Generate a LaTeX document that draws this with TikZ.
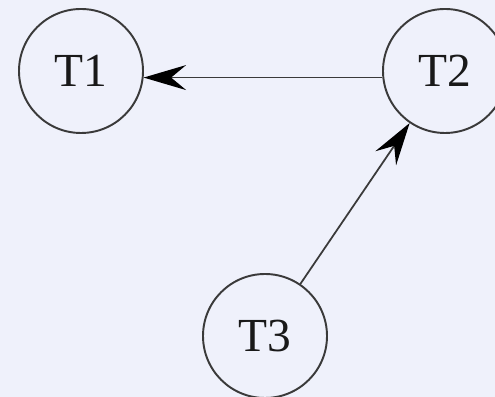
\documentclass[tikz,border=0pt]{standalone}
\usepackage{fontspec}
\setmainfont{Liberation Serif}
\usetikzlibrary{arrows.meta}
\definecolor{bgTint}{HTML}{EFF1FB}
\definecolor{inkGray}{HTML}{3A3A3A}

\begin{document}
\begin{tikzpicture}[
    taskNode/.style={circle, draw=inkGray, line width=1.1pt, minimum size=2.48cm, inner sep=0pt, font=\fontsize{27}{27}\selectfont, text=black!90},
    depRel/.style={-{Stealth[length=0.85cm, width=0.5cm, inset=0.3cm, black]}, inkGray, line width=1pt}
]
    % Background and frame
    \useasboundingbox (0,0) rectangle (9.9,7.94);
    \fill[bgTint] (0,0) rectangle (9.9,7.94);
    \clip (0,0) rectangle (9.9,7.94);

    % Tasks
    \node[taskNode] (t1) at (1.62, 6.52) {T1};
    \node[taskNode] (t2) at (8.90, 6.52) {T2};
    \node[taskNode] (t3) at (5.30, 1.22) {T3};

    % Dependencies
    \draw[depRel] (t2.186) -- (t1.-6);
    \draw[depRel] (t3) -- (t2);
\end{tikzpicture}
\end{document}
